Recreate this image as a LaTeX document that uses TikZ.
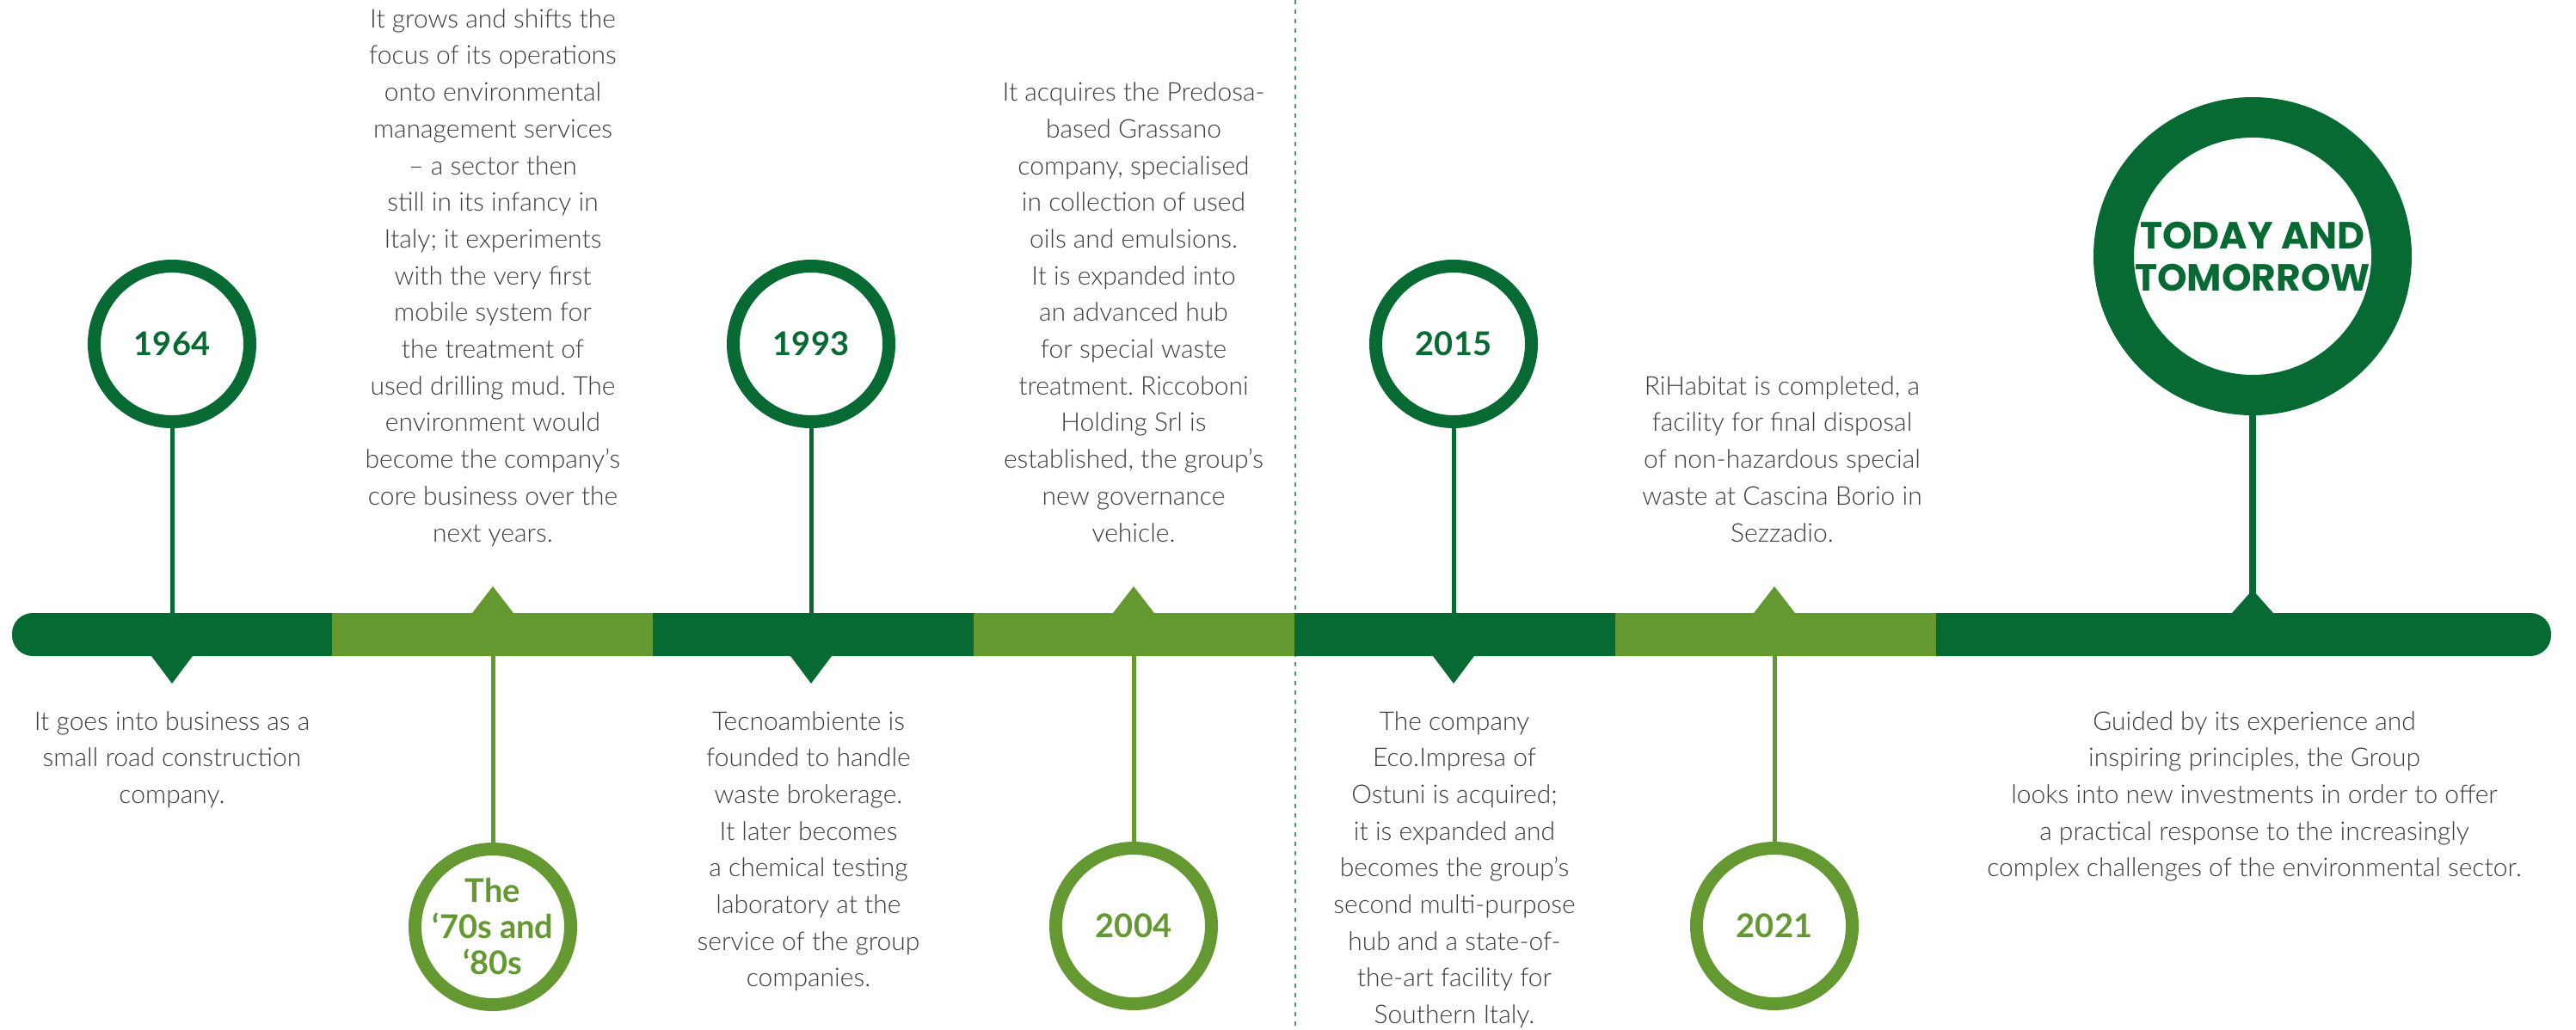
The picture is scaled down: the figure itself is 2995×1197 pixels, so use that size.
\documentclass[tikz,border=0pt]{standalone}
\usepackage{fontspec}
\IfFontExistsTF{Lato Light}{\newfontfamily\bodyfont{Lato Light}}{\newfontfamily\bodyfont{Lato}}
\newfontfamily\yearfont{Lato}
\newfontfamily\todayfont{Poppins}
\definecolor{dkgreen}{HTML}{066A32}
\definecolor{ltgreen}{HTML}{649830}
\definecolor{txtgray}{HTML}{3C3C3C}
\definecolor{dashgreen}{HTML}{4F9E6C}
\frenchspacing
\tikzset{
  ring/.style={circle, draw=#1, line width=15pt, minimum size=181pt, inner sep=0pt,
    text=#1, font=\yearfont\bfseries\fontsize{38}{42}\selectfont, align=center},
  stem/.style={line width=5pt, draw=#1},
  body/.style={anchor=base, inner sep=0pt, text=txtgray,
    font=\bodyfont\frenchspacing\fontsize{30}{42.7}\selectfont},
}
\begin{document}
\begin{tikzpicture}[x=1pt,y=-1pt]
\useasboundingbox (0,0) rectangle (2995,1197);
% dashed separator
\coordinate (dtop) at (1506,0);
\coordinate (dbot) at (1506,1197);
\draw[dashgreen, line width=2pt, dash pattern=on 5pt off 6pt] (dtop) -- (dbot);
% bar
\fill[dkgreen, rounded corners=24pt] (14,713) rectangle (2966,763);
\fill[ltgreen] (386,713) rectangle (759,763);
\fill[ltgreen] (1132,713) rectangle (1505,763);
\fill[ltgreen] (1878,713) rectangle (2251,763);
% bar attachment points
\coordinate (b1964) at (200,713);
\coordinate (b1970) at (573,763);
\coordinate (b1993) at (943,713);
\coordinate (b2004) at (1318,763);
\coordinate (b2015) at (1690,713);
\coordinate (b2021) at (2063,763);
\coordinate (btoday) at (2619,700);
% triangles
\fill[dkgreen] (176,763) -- (224,763) -- (200,795) -- cycle;
\fill[dkgreen] (919,763) -- (967,763) -- (943,795) -- cycle;
\fill[dkgreen] (1666,763) -- (1714,763) -- (1690,795) -- cycle;
\fill[ltgreen] (549,713) -- (597,713) -- (573,682) -- cycle;
\fill[ltgreen] (1294,713) -- (1342,713) -- (1318,682) -- cycle;
\fill[ltgreen] (2039,713) -- (2087,713) -- (2063,682) -- cycle;
\fill[dkgreen] (2595,713) -- (2643,713) -- (2619,686) -- cycle;
% circles
\node[ring=dkgreen] (c1964) at (200,400) {1964};
\node[ring=ltgreen] (c1970) at (573,1078) {The\\‘70s and\\‘80s};
\node[ring=dkgreen] (c1993) at (943,400) {1993};
\node[ring=ltgreen] (c2004) at (1318,1077) {2004};
\node[ring=dkgreen] (c2015) at (1690,400) {2015};
\node[ring=ltgreen] (c2021) at (2063,1077) {2021};
\node[circle, draw=dkgreen, line width=47pt, minimum size=323pt, inner sep=0pt,
  text=dkgreen, align=center, font=\todayfont\bfseries\fontsize{44}{49}\selectfont]
  (ctoday) at (2619,298) {TODAY AND\\TOMORROW};
% stems
\draw[stem=dkgreen] (c1964.south) -- (b1964);
\draw[stem=ltgreen] (b1970) -- (c1970.north);
\draw[stem=dkgreen] (c1993.south) -- (b1993);
\draw[stem=ltgreen] (b2004) -- (c2004.north);
\draw[stem=dkgreen] (c2015.south) -- (b2015);
\draw[stem=ltgreen] (b2021) -- (c2021.north);
\draw[dkgreen, line width=8pt] (ctoday.south) -- (btoday);
% texts above the bar
\node[body] (t1970) at (573,630) {\begin{tabular}[b]{@{}c@{}}
It grows and shifts the\\
focus of its operations\\
onto environmental\\
management services\\
– a sector then\\
still in its infancy in\\
Italy; it experiments\\
with the very first\\
mobile system for\\
the treatment of\\
used drilling mud. The\\
environment would\\
become the company’s\\
core business over the\\
next years.\end{tabular}};
\node[body] (t2004) at (1318,630) {\begin{tabular}[b]{@{}c@{}}
It acquires the Predosa-\\
based Grassano\\
company, specialised\\
in collection of used\\
oils and emulsions.\\
It is expanded into\\
an advanced hub\\
for special waste\\
treatment. Riccoboni\\
Holding Srl is\\
established, the group’s\\
new governance\\
vehicle.\end{tabular}};
\node[body] (t2021) at (2072,630) {\begin{tabular}[b]{@{}c@{}}
RiHabitat is completed, a\\
facility for final disposal\\
of non-hazardous special\\
waste at Cascina Borio in\\
Sezzadio.\end{tabular}};
% texts below the bar
\node[body] (t1964) at (200,849) {\begin{tabular}[t]{@{}c@{}}
It goes into business as a\\
small road construction\\
company.\end{tabular}};
\node[body] (t1993) at (940,849) {\begin{tabular}[t]{@{}c@{}}
Tecnoambiente is\\
founded to handle\\
waste brokerage.\\
It later becomes\\
a chemical testing\\
laboratory at the\\
service of the group\\
companies.\end{tabular}};
\node[body] (t2015) at (1691,849) {\begin{tabular}[t]{@{}c@{}}
The company\\
Eco.Impresa of\\
Ostuni is acquired;\\
it is expanded and\\
becomes the group’s\\
second multi-purpose\\
hub and a state-of-\\
the-art facility for\\
Southern Italy.\end{tabular}};
\node[body] (ttoday) at (2621,849) {\begin{tabular}[t]{@{}c@{}}
Guided by its experience and\\
inspiring principles, the Group\\
looks into new investments in order to offer\\
a practical response to the increasingly\\
complex challenges of the environmental sector.\end{tabular}};
\end{tikzpicture}
\end{document}
